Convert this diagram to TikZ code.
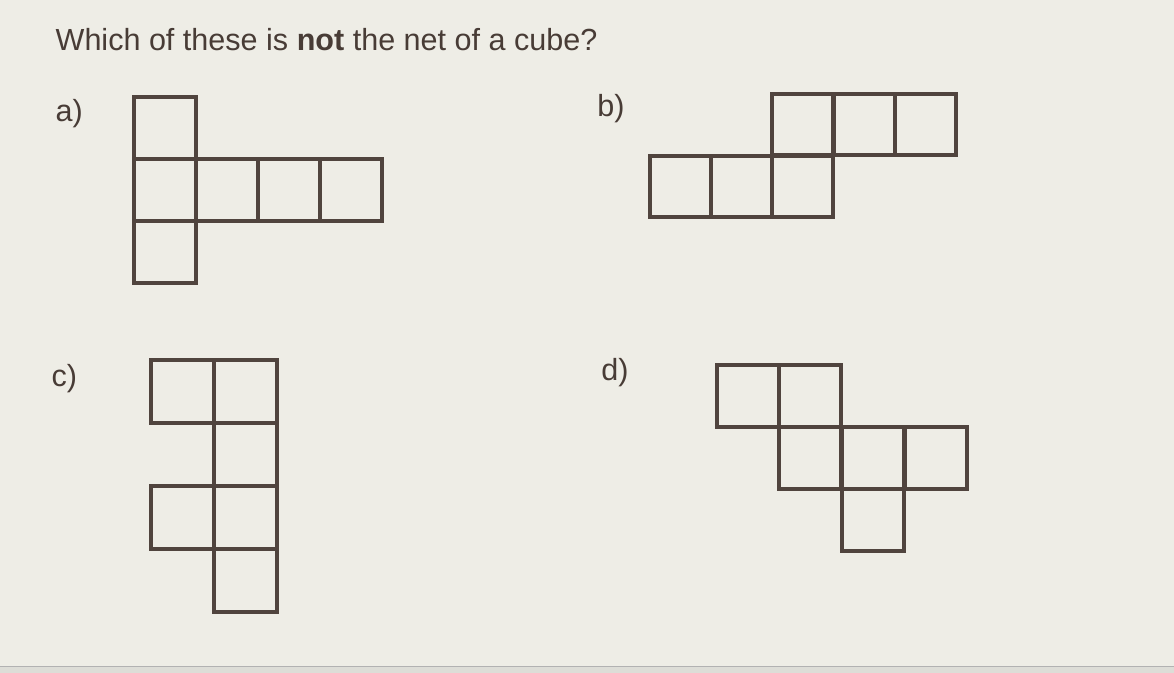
\documentclass[tikz,border=0pt]{standalone}
\usepackage{fontspec}
\setmainfont{Liberation Sans}
\definecolor{paper}{RGB}{238,237,230}
\definecolor{ink}{RGB}{80,68,62}
\definecolor{txt}{RGB}{72,60,54}
\begin{document}
\begin{tikzpicture}[x=0.02cm,y=-0.02cm,
        netline/.style={draw=ink,line width=2.2pt},
        lbl/.style={anchor=base west,inner sep=0pt,text=txt,font=\fontsize{17.4}{20}\selectfont}]
        \fill[paper](0,0) rectangle (1174,673);
        \fill[paper!85!gray](0,667) rectangle (1174,673);
        \draw[gray!60,thin](0,667) -- (1174,667);
        \node[lbl](title) at (55,51){Which of these is \textbf{not} the net of a cube?};
        % labels
        \node[lbl](la) at (55,122){a)};
        \node[lbl](lb) at (597,117){b)};
        \node[lbl](lc) at (51,387){c)};
        \node[lbl](ld) at (601,381){d)};
        % net a
        \foreach \x/\y in {134/97,134/159,134/221,196/159,258/159,320/159}
            \draw[netline](\x,\y) rectangle ++(62,62);
        % net b
        \foreach \x/\y in {772/94,834/94,895/94,650/156,711/156,772/156}
            \draw[netline](\x,\y) rectangle ++(61,61);
        % net c
        \foreach \x/\y in {151/360,214/360,214/423,151/486,214/486,214/549}
            \draw[netline](\x,\y) rectangle ++(63,63);
        % net d
        \foreach \x/\y in {717/365,779/365,779/427,842/427,905/427,842/489}
            \draw[netline](\x,\y) rectangle ++(62,62);
    \end{tikzpicture}
\end{document}
